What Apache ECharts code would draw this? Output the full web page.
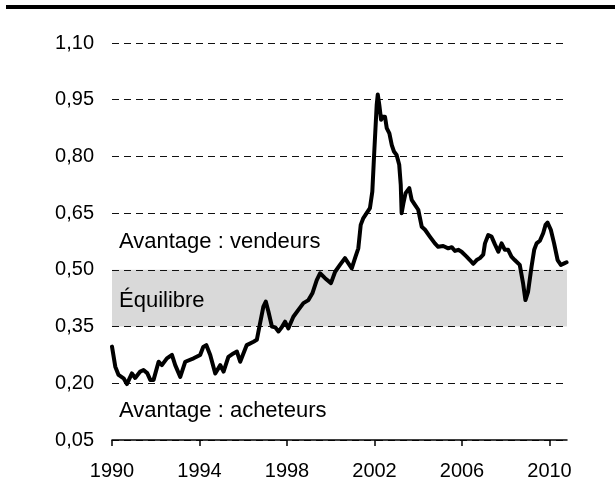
<!DOCTYPE html>
<html>
<head>
<meta charset="utf-8">
<script src="https://cdn.jsdelivr.net/npm/echarts@6/dist/echarts.min.js"></script>
<style>
  html, body { margin: 0; padding: 0; background: #fff; }
  #chart { width: 615px; height: 504px; }
</style>
</head>
<body>
<div id="chart"></div>
<script>
// Ratio series, sampled through 1990–2010 (decimal years)
const years = [
  1990.00, 1990.15, 1990.30, 1990.53, 1990.68, 1990.91, 1991.06, 1991.29, 1991.44, 1991.61,
  1991.75, 1991.90, 1992.13, 1992.28, 1992.51, 1992.74, 1992.89, 1993.12, 1993.35, 1993.73,
  1994.03, 1994.17, 1994.31, 1994.49, 1994.72, 1994.95, 1995.10, 1995.32, 1995.55, 1995.71,
  1995.86, 1996.16, 1996.47, 1996.62, 1996.77, 1996.92, 1997.03, 1997.15, 1997.31, 1997.46,
  1997.61, 1997.76, 1997.91, 1998.06, 1998.29, 1998.52, 1998.75, 1998.98, 1999.16, 1999.36,
  1999.51, 1999.74, 2000.01, 2000.20, 2000.42, 2000.65, 2000.80, 2000.96, 2001.11, 2001.26,
  2001.37, 2001.49, 2001.64, 2001.79, 2001.90, 2001.99, 2002.10, 2002.15, 2002.22, 2002.30,
  2002.37, 2002.48, 2002.56, 2002.68, 2002.79, 2002.89, 2003.01, 2003.13, 2003.20, 2003.24,
  2003.32, 2003.42, 2003.59, 2003.70, 2003.85, 2004.00, 2004.16, 2004.31, 2004.53, 2004.76,
  2004.91, 2005.14, 2005.37, 2005.53, 2005.68, 2005.83, 2005.98, 2006.21, 2006.36, 2006.51,
  2006.67, 2006.82, 2006.97, 2007.05, 2007.20, 2007.35, 2007.50, 2007.66, 2007.81, 2007.96,
  2008.11, 2008.26, 2008.41, 2008.49, 2008.64, 2008.79, 2008.90, 2009.02, 2009.18, 2009.30,
  2009.41, 2009.56, 2009.71, 2009.82, 2009.91, 2010.06, 2010.21, 2010.37, 2010.52, 2010.67,
  2010.78
];
const ratio = [
  0.297, 0.244, 0.222, 0.213, 0.198, 0.226, 0.214, 0.231, 0.235, 0.227,
  0.209, 0.209, 0.257, 0.248, 0.266, 0.275, 0.248, 0.217, 0.257, 0.266,
  0.275, 0.296, 0.301, 0.275, 0.226, 0.248, 0.231, 0.270, 0.279, 0.284,
  0.257, 0.301, 0.310, 0.315, 0.359, 0.403, 0.416, 0.390, 0.350, 0.348,
  0.337, 0.348, 0.363, 0.345, 0.376, 0.394, 0.412, 0.420, 0.438, 0.473,
  0.491, 0.478, 0.465, 0.495, 0.513, 0.531, 0.518, 0.504, 0.531, 0.557,
  0.619, 0.637, 0.650, 0.663, 0.707, 0.813, 0.936, 0.964, 0.936, 0.897,
  0.905, 0.905, 0.875, 0.861, 0.830, 0.813, 0.804, 0.778, 0.725, 0.650,
  0.676, 0.703, 0.716, 0.685, 0.672, 0.659, 0.614, 0.606, 0.588, 0.570,
  0.561, 0.563, 0.557, 0.560, 0.550, 0.553, 0.548, 0.535, 0.526, 0.516,
  0.526, 0.531, 0.540, 0.570, 0.592, 0.588, 0.568, 0.548, 0.570, 0.553,
  0.553, 0.535, 0.526, 0.524, 0.513, 0.465, 0.420, 0.442, 0.509, 0.553,
  0.570, 0.577, 0.597, 0.619, 0.625, 0.606, 0.570, 0.526, 0.513, 0.517,
  0.520
];

// Axis ticks
const xTicks = [1990, 1994, 1998, 2002, 2006, 2010];
const yTicks = [0.05, 0.20, 0.35, 0.50, 0.65, 0.80, 0.95, 1.10];

// Equilibrium band limits
const bandLow = 0.35;
const bandHigh = 0.50;

const FONT = '"Liberation Sans", Arial, sans-serif';

const chart = echarts.init(document.getElementById('chart'), null, { renderer: 'canvas' });

chart.setOption({
  animation: false,
  backgroundColor: '#ffffff',
  grid: { left: 112, right: 48, top: 43, bottom: 64, containLabel: false },
  xAxis: {
    type: 'value',
    min: 1990,
    max: 2010.8,
    z: 3,
    axisLine: { show: true, lineStyle: { color: '#000', width: 1.5 } },
    axisTick: { show: true, length: 6, lineStyle: { color: '#000', width: 1.5 }, customValues: xTicks },
    axisLabel: {
      customValues: xTicks,
      color: '#000', fontFamily: FONT, fontSize: 20, margin: 21,
      formatter: v => String(v)
    },
    splitLine: { show: false }
  },
  yAxis: {
    type: 'value',
    min: 0.05,
    max: 1.10,
    z: 3,
    axisLine: { show: false },
    axisTick: { show: false, customValues: yTicks },
    axisLabel: {
      customValues: yTicks,
      color: '#000', fontFamily: FONT, fontSize: 20, margin: 18,
      formatter: v => v.toFixed(2).replace('.', ',')
    },
    splitLine: {
      show: true,
      lineStyle: { color: '#111', width: 1, type: [7, 5] }
    }
  },
  series: [
    {
      // grey equilibrium band, kept beneath the grid lines
      type: 'line',
      data: [],
      z: 1,
      silent: true,
      markArea: {
        silent: true,
        z: 1,
        itemStyle: { color: '#d9d9d9' },
        data: [[{ yAxis: bandLow }, { yAxis: bandHigh }]]
      }
    },
    {
      type: 'line',
      data: years.map((y, i) => [y, ratio[i]]),
      showSymbol: false,
      smooth: false,
      z: 5,
      lineStyle: { color: '#000', width: 4, join: 'round', cap: 'round' }
    }
  ],
  graphic: [
    { type: 'rect', z: 10, left: 6, top: 5, shape: { width: 609, height: 4 }, style: { fill: '#000' } },
    { type: 'text', z: 10, left: 119, top: 231, style: { text: 'Avantage : vendeurs', fontFamily: FONT, fontSize: 22, fill: '#000' } },
    { type: 'text', z: 10, left: 119, top: 290, style: { text: 'Équilibre', fontFamily: FONT, fontSize: 22, fill: '#000' } },
    { type: 'text', z: 10, left: 119, top: 400, style: { text: 'Avantage : acheteurs', fontFamily: FONT, fontSize: 22, fill: '#000' } }
  ]
});
</script>
</body>
</html>
